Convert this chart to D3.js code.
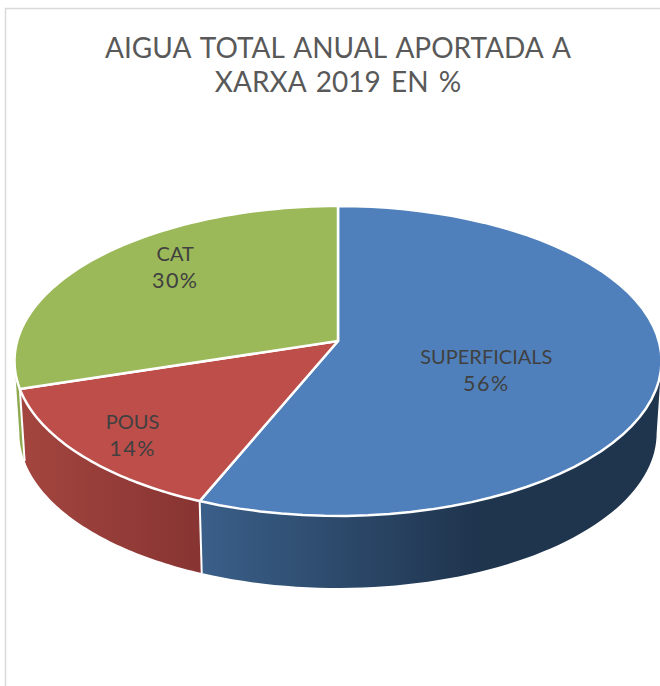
<!DOCTYPE html>
<html>
<head>
<meta charset="utf-8">
<script src="https://d3js.org/d3.v7.min.js"></script>
<style>
html,body{margin:0;padding:0;background:#fff}
svg{display:block}
text{font-family:Lato,"Open Sans",sans-serif}
</style>
</head>
<body>
<svg id="chart" width="660" height="686"></svg>
<script>
const titleLines = ["AIGUA TOTAL ANUAL APORTADA A", "XARXA 2019 EN %"];
const categories = ["SUPERFICIALS", "POUS", "CAT"];
const values = [56.2, 13.9, 29.9];
const topColors = ["#4f80bb", "#bd4e4a", "#9bb958"];

const W = 660, H = 686;
const cx = 338, apexY = 341;
const A = 320.8, B = 152.4, k = 0.129;   // perspective disc
const depth = 72, bottomShrink = 0.985;
const silhouette = Math.acos(-k);        // where the disc edge turns away from the viewer
const wallGrad = [
  {id:"w0", x1:200, x2:480, stops:["#3a5f89","#1f344d"]},
  {id:"w1", x1:25,  x2:200, stops:["#a3453f","#873432"]},
  {id:"w2", x1:15,  x2:25,  stops:["#8ea94f","#8ea94f"]}
];
const labelNudge = [[-11,12],[-82,38],[-38,-33]];

const svg = d3.select("#chart");
const defs = svg.append("defs");
wallGrad.forEach(g=>{
  const lg = defs.append("linearGradient").attr("id",g.id)
    .attr("gradientUnits","userSpaceOnUse")
    .attr("x1",g.x1).attr("x2",g.x2).attr("y1",0).attr("y2",0);
  lg.append("stop").attr("offset",0).attr("stop-color",g.stops[0]);
  lg.append("stop").attr("offset",1).attr("stop-color",g.stops[1]);
});

// chart frame
svg.append("path").attr("d",`M${W},8.5H5.5V${H}`).attr("fill","none")
   .attr("stroke","#d9d9d9").attr("stroke-width",1.5);

// title
svg.append("g").selectAll("text").data(titleLines).join("text")
  .attr("x",338).attr("y",(d,i)=>58+i*34).attr("text-anchor","middle")
  .attr("font-size",28).attr("word-spacing",3).attr("fill","#595959").text(d=>d);

const arcs = d3.pie().sort(null).value(d=>d)(values);

function project(theta,t=1){
  const X=t*Math.sin(theta), Y=-t*Math.cos(theta), w=1-k*Y;
  return [cx+X*A/w, apexY+Y*B/w];
}
const lower = p=>[cx+(p[0]-cx)*bottomShrink, p[1]+depth];
const line = d3.line();
const samples = (a,b)=>d3.range(0,61).map(i=>a+(b-a)*i/60);

// side walls
const walls = svg.append("g");
arcs.forEach((d,i)=>{
  const a=Math.max(d.startAngle,silhouette), b=Math.min(d.endAngle,2*Math.PI-silhouette);
  if(b<=a) return;
  const top=samples(a,b).map(t=>project(t));
  const bot=top.map(lower).reverse();
  walls.append("path").attr("d",line(top.concat(bot))+"Z").attr("fill",`url(#w${i})`);
});
// white seams between walls
arcs.forEach(d=>{
  if(d.startAngle<=silhouette) return;
  if(d.startAngle>=2*Math.PI-silhouette) return;
  const p=project(d.startAngle);
  walls.append("path").attr("d",line([p,lower(p)])).attr("stroke","#fff").attr("stroke-width",2).attr("fill","none");
});

// top face
svg.append("g").selectAll("path").data(arcs).join("path")
  .attr("d",d=>line([[cx,apexY]].concat(samples(d.startAngle,d.endAngle).map(t=>project(t))))+"Z")
  .attr("fill",(d,i)=>topColors[i]).attr("stroke","#fff").attr("stroke-width",2.5).attr("stroke-linejoin","round");

// labels
svg.append("g").selectAll("text").data(arcs).join("text")
  .attr("text-anchor","middle").attr("font-size",20).attr("fill","#404040")
  .each(function(d,i){
    const p=project((d.startAngle+d.endAngle)/2,0.5);
    const x=p[0]+labelNudge[i][0], y=p[1]+labelNudge[i][1];
    const t=d3.select(this);
    t.append("tspan").attr("x",x).attr("y",y-4).text(categories[i]);
    t.append("tspan").attr("x",x).attr("y",y+23).attr("font-size",21.5).attr("letter-spacing",1.5).text(Math.round(values[i])+"%");
  });
</script>
</body>
</html>
